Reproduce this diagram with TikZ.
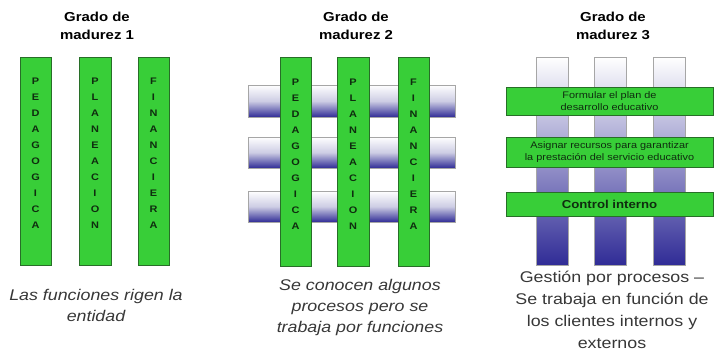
\documentclass[tikz,border=0pt]{standalone}
\usepackage{fontspec}
\setmainfont[FakeStretch=1.15]{Liberation Sans}
\usetikzlibrary{shadings}
\definecolor{barg}{RGB}{56,206,56}
\definecolor{bargb}{RGB}{40,110,40}
\definecolor{lett}{RGB}{15,45,15}
\definecolor{dblue}{RGB}{48,44,150}
\definecolor{lav}{RGB}{205,205,228}
\definecolor{capg}{RGB}{55,55,55}
\tikzset{
  greenbar/.style={draw=bargb, line width=0.6pt, fill=barg},
  band/.style={draw=gray!70, line width=0.5pt, top color=white, bottom color=dblue, middle color=lav},
  vbar/.style={draw=gray!70, line width=0.5pt, top color=white, bottom color=dblue},
  title/.style={font=\fontsize{13}{18}\selectfont\bfseries, align=center, inner sep=0pt},
  letters/.style={font=\fontsize{9.5}{16}\selectfont\bfseries, text=lett, align=center, inner sep=0pt},
  capi/.style={font=\fontsize{15.5}{21}\selectfont\itshape, text=capg, align=center, inner sep=0pt},
  capr/.style={font=\fontsize{15.5}{22}\selectfont, text=capg, align=center, inner sep=0pt},
  gtext/.style={font=\fontsize{9.5}{11.5}\selectfont, text=lett, align=center, inner sep=0pt},
}
\begin{document}
\begin{tikzpicture}[x=1pt,y=-1pt]
\useasboundingbox (0,0) rectangle (715,362);
% ---------- Panel 1 ----------
\node[title] (t1) at (97,26) {Grado de\\madurez 1};
\draw[greenbar] (20,57) rectangle (51,265);
\draw[greenbar] (79,57) rectangle (111,265);
\draw[greenbar] (138,57) rectangle (169,265);
\node[letters] (p1a) at (35.5,153) {P\\E\\D\\A\\G\\O\\G\\I\\C\\A};
\node[letters] (p1b) at (95,153) {P\\L\\A\\N\\E\\A\\C\\I\\O\\N};
\node[letters] (p1c) at (153.5,153) {F\\I\\N\\A\\N\\C\\I\\E\\R\\A};
\node[capi] (c1) at (96,305) {Las funciones rigen la\\entidad};
% ---------- Panel 2 ----------
\node[title] (t2) at (356,26) {Grado de\\madurez 2};
\shade[band] (248,85) rectangle (455,117);
\shade[band] (248,137) rectangle (455,168);
\shade[band] (248,191) rectangle (455,222);
\draw[gray!70, line width=0.5pt] (248,85) rectangle (455,117);
\draw[gray!70, line width=0.5pt] (248,137) rectangle (455,168);
\draw[gray!70, line width=0.5pt] (248,191) rectangle (455,222);
\draw[greenbar] (280,57) rectangle (311,266);
\draw[greenbar] (337,57) rectangle (369,266);
\draw[greenbar] (398,57) rectangle (429,266);
\node[letters] (p2a) at (295.5,154) {P\\E\\D\\A\\G\\O\\G\\I\\C\\A};
\node[letters] (p2b) at (353,154) {P\\L\\A\\N\\E\\A\\C\\I\\O\\N};
\node[letters] (p2c) at (413.5,154) {F\\I\\N\\A\\N\\C\\I\\E\\R\\A};
\node[capi] (c2) at (360,307) {Se conocen algunos\\procesos pero se\\trabaja por funciones};
% ---------- Panel 3 ----------
\node[title] (t3) at (613,26) {Grado de\\madurez 3};
\shade[vbar] (536,57) rectangle (568,265);
\shade[vbar] (594,57) rectangle (626,265);
\shade[vbar] (653,57) rectangle (685,265);
\draw[gray!70, line width=0.5pt] (536,57) rectangle (568,265);
\draw[gray!70, line width=0.5pt] (594,57) rectangle (626,265);
\draw[gray!70, line width=0.5pt] (653,57) rectangle (685,265);
\draw[greenbar] (506,87) rectangle (713,115);
\draw[greenbar] (506,137) rectangle (713,167);
\draw[greenbar] (506,192) rectangle (713,216);
\node[gtext] (g1) at (609.5,101) {Formular el plan de\\desarrollo educativo};
\node[gtext] (g2) at (609.5,152) {Asignar recursos para garantizar\\la prestaci\'on del servicio educativo};
\node[gtext, font=\fontsize{11.5}{13}\selectfont\bfseries] (g3) at (609.5,204) {Control interno};
\node[capr] (c3) at (612,310) {Gesti\'on por procesos --\\Se trabaja en funci\'on de\\los clientes internos y\\externos};
\end{tikzpicture}
\end{document}
